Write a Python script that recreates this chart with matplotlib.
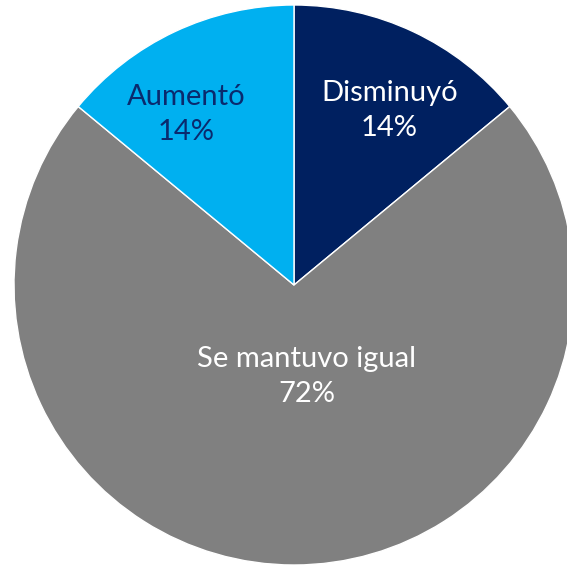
import numpy as np
import matplotlib.pyplot as plt

labels = ['Disminuyó', 'Se mantuvo igual', 'Aumentó']
values = [14, 72, 14]
colors = ['#002060', '#808080', '#00B0F0']
text_colors = ['white', 'white', '#0A2A6E']
label_dist = [0.71, 0.33, 0.72]
angle_shift = [-3.5, 8.0, 7.0]

fig = plt.figure(figsize=(5.67, 5.65), dpi=100)
ax = fig.add_axes([14 / 567, 0, 560 / 567, 560 / 565])

wedges, _ = ax.pie(values, colors=colors, startangle=90, counterclock=False,
                   radius=1.0, wedgeprops=dict(edgecolor='white', linewidth=1))

for w, lab, v, tc, d, s in zip(wedges, labels, values, text_colors, label_dist, angle_shift):
    ang = np.deg2rad((w.theta1 + w.theta2) / 2 + s)
    x, y = d * np.cos(ang), d * np.sin(ang)
    ax.text(x, y, f'{lab}\n{v}%', ha='center', va='center', color=tc,
            fontsize=21, family='Lato', linespacing=1.4)

ax.set_xlim(-1, 1)
ax.set_ylim(-1, 1)
ax.set_aspect('equal')
ax.axis('off')

fig.savefig('out.png', dpi=100)
